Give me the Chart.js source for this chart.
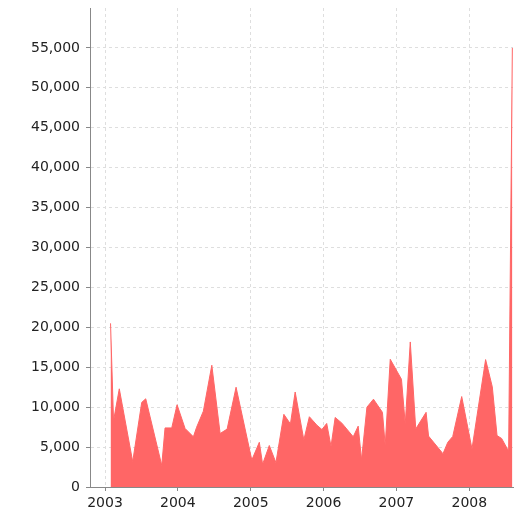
<!DOCTYPE html>
<html>
<head>
    <meta charset="UTF-8" />
    <title>Area chart 2003-2008</title>
    <script src="https://cdn.jsdelivr.net/npm/chart.js@4.4.9/dist/chart.umd.min.js"></script>
    <style>
        html, body { margin: 0; padding: 0; background: #fff; }
        #wrap { width: 515px; height: 514px; }
    </style>
</head>
<body>
    <div id="wrap"><canvas id="chart"></canvas></div>
<script>
    // dates as decimal years
    const dates = [
        2003.076, 2003.117, 2003.196, 2003.380, 2003.504, 2003.559, 2003.779, 2003.824, 2003.916, 2003.989,
        2004.099, 2004.213, 2004.257, 2004.350, 2004.466, 2004.580, 2004.676, 2004.799,
        2005.015, 2005.118, 2005.163, 2005.255, 2005.346, 2005.455, 2005.545, 2005.610, 2005.729, 2005.805, 2005.908, 2005.977,
        2006.043, 2006.102, 2006.159, 2006.251, 2006.407, 2006.475, 2006.521, 2006.595, 2006.685, 2006.808, 2006.846, 2006.915,
        2007.069, 2007.121, 2007.190, 2007.265, 2007.407, 2007.441, 2007.639, 2007.705, 2007.773, 2007.896,
        2008.037, 2008.224, 2008.316, 2008.381, 2008.444, 2008.540, 2008.591
    ];
    const values = [
        20500, 8300, 12300, 3170, 10600, 11050, 2700, 7400, 7400, 10300,
        7330, 6290, 7480, 9500, 15250, 6700, 7250, 12500,
        3375, 5600, 2850, 5200, 3050, 9100, 7900, 11900, 5900, 8800, 7750, 7200,
        7960, 5080, 8710, 8000, 6290, 7625, 3420, 10000, 11000, 9350, 5200, 16000,
        13500, 7900, 18170, 7270, 9350, 6375, 4170, 5600, 6330, 11330,
        4770, 15960, 12540, 6440, 6080, 4480, 55000
    ];
    const yearTicks = [2003, 2004, 2005, 2006, 2007, 2008];
    const yTicks = [0, 5000, 10000, 15000, 20000, 25000, 30000, 35000, 40000, 45000, 50000, 55000];

    const points = dates.map((d, i) => ({ x: d, y: values[i] }));

    const tickFont = { family: 'DejaVu Sans', size: 14 };

    let chart = new Chart(document.getElementById('chart'), {
        type: 'line',
        data: {
            datasets: [{
                data: points,
                fill: 'origin',
                backgroundColor: 'rgb(255,102,102)',
                borderColor: 'rgb(255,102,102)',
                borderWidth: 1,
                pointRadius: 0,
                tension: 0
            }]
        },
        options: {
            responsive: true,
            maintainAspectRatio: false,
            animation: false,
            layout: { padding: { top: 8, right: 2, left: 0, bottom: 0 } },
            plugins: { legend: { display: false }, tooltip: { enabled: false } },
            scales: {
                x: {
                    type: 'linear',
                    min: 2002.794,
                    max: 2008.6,
                    afterBuildTicks: s => { s.ticks = yearTicks.map(v => ({ value: v })); },
                    afterFit: s => { s.height = 27; },
                    ticks: { color: '#222', font: tickFont, padding: 4, maxRotation: 0, callback: v => String(v) },
                    grid: { color: '#dedede', tickColor: '#888', tickLength: 4 },
                    border: { color: '#888', dash: [3, 3] }
                },
                y: {
                    min: 0,
                    max: 60000,
                    afterBuildTicks: s => { s.ticks = yTicks.map(v => ({ value: v })); },
                    // no extra room above the top tick
                    afterFit: s => { s.width = 90; s.paddingTop = 0; },
                    ticks: { color: '#222', font: tickFont, padding: 6, callback: v => v.toLocaleString('en-US') },
                    grid: { color: '#dedede', tickColor: '#888', tickLength: 4 },
                    border: { color: '#888', dash: [3, 3] }
                }
            }
        }
    });
</script>
</body>
</html>
